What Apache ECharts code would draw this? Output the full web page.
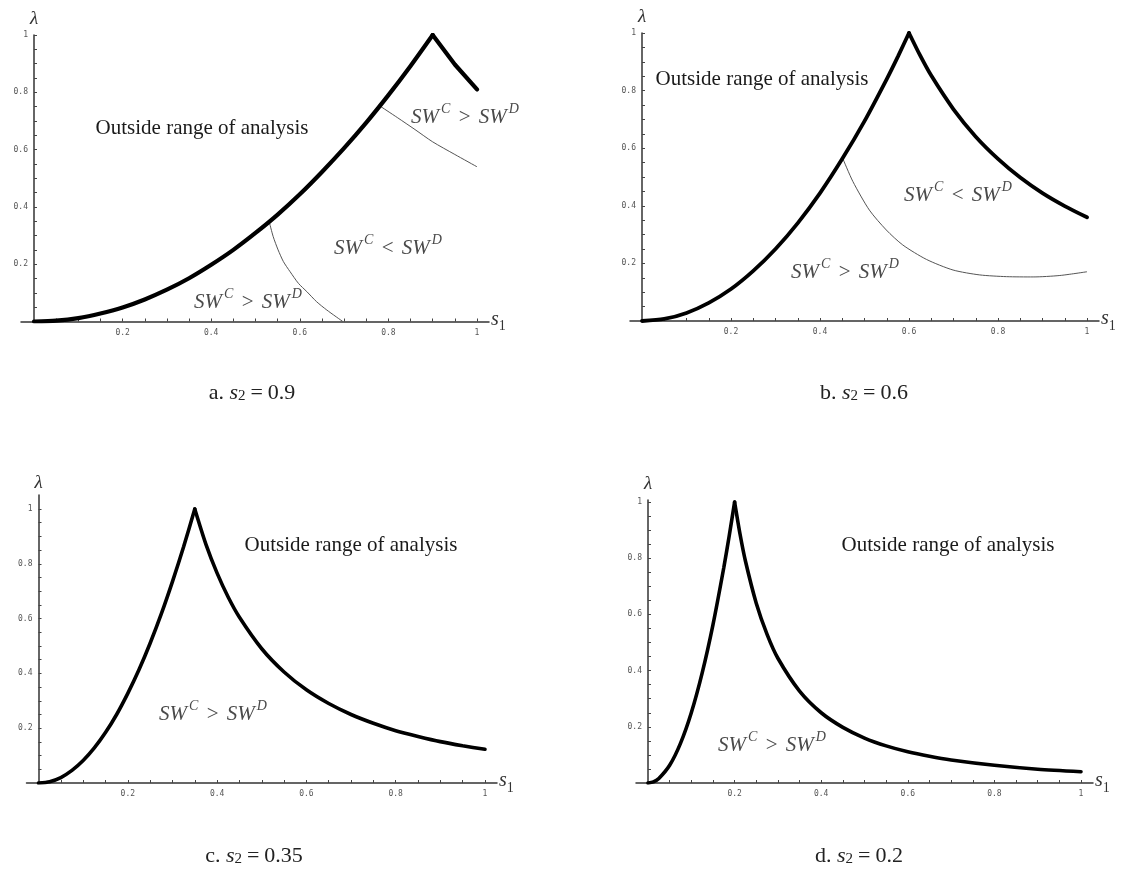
<!DOCTYPE html>
<html>
<head>
<meta charset="utf-8">
<script src="https://cdn.jsdelivr.net/npm/echarts@6.0.0/dist/echarts.min.js"></script>
<style>
  html, body { margin: 0; padding: 0; background: #fff; }
  #main { width: 1125px; height: 870px; }
</style>
</head>
<body>
<div id="main"></div>
<script>
// ---- data ----
// a. s2 = 0.9  (left branch up to the peak, right branch from the peak)
var sA = [0, 0.05, 0.1, 0.15, 0.2, 0.25, 0.3, 0.35, 0.4, 0.45, 0.5, 0.55, 0.6, 0.65, 0.7, 0.75, 0.8, 0.85, 0.9]
var lamA = [0, 0.003, 0.012, 0.028, 0.049, 0.077, 0.111, 0.151, 0.198, 0.25, 0.309, 0.373, 0.444, 0.522, 0.605, 0.694, 0.79, 0.892, 1]
var sAr = [0.9, 0.95, 1]
var lamAr = [1, 0.897, 0.81]
var sA1 = [0.531, 0.54, 0.551, 0.563, 0.578, 0.597, 0.616, 0.638, 0.661, 0.697]
var lamA1 = [0.348, 0.296, 0.25, 0.209, 0.174, 0.133, 0.104, 0.069, 0.04, 0]
var sA2 = [0.781, 0.82, 0.86, 0.9, 0.95, 1]
var lamA2 = [0.752, 0.712, 0.67, 0.627, 0.583, 0.54]
// b. s2 = 0.6
var sB = [0, 0.05, 0.1, 0.15, 0.2, 0.25, 0.3, 0.35, 0.4, 0.45, 0.5, 0.55, 0.575, 0.6]
var lamB = [0, 0.007, 0.028, 0.063, 0.111, 0.174, 0.25, 0.34, 0.444, 0.563, 0.694, 0.84, 0.918, 1]
var sBr = [0.6, 0.625, 0.65, 0.7, 0.75, 0.8, 0.85, 0.9, 0.95, 1]
var lamBr = [1, 0.922, 0.852, 0.735, 0.64, 0.563, 0.498, 0.444, 0.399, 0.36]
var sB1 = [0.451, 0.474, 0.511, 0.549, 0.586, 0.639, 0.699, 0.759, 0.819, 0.879, 0.939, 1]
var lamB1 = [0.565, 0.484, 0.385, 0.316, 0.264, 0.214, 0.177, 0.16, 0.154, 0.153, 0.158, 0.171]
// c. s2 = 0.35
var sC = [0, 0.025, 0.05, 0.075, 0.1, 0.125, 0.15, 0.175, 0.2, 0.225, 0.25, 0.275, 0.3, 0.325, 0.35]
var lamC = [0, 0.005, 0.02, 0.046, 0.082, 0.128, 0.184, 0.25, 0.327, 0.413, 0.51, 0.617, 0.735, 0.862, 1]
var sCr = [0.35, 0.375, 0.4, 0.425, 0.45, 0.5, 0.55, 0.6, 0.65, 0.7, 0.75, 0.8, 0.85, 0.9, 0.95, 1]
var lamCr = [1, 0.871, 0.766, 0.678, 0.605, 0.49, 0.405, 0.34, 0.29, 0.25, 0.218, 0.191, 0.17, 0.151, 0.136, 0.123]
// d. s2 = 0.2
var sD = [0, 0.0125, 0.025, 0.05, 0.075, 0.1, 0.125, 0.15, 0.175, 0.1875, 0.2]
var lamD = [0, 0.004, 0.016, 0.063, 0.141, 0.25, 0.391, 0.563, 0.766, 0.879, 1]
var sDr = [0.2, 0.2125, 0.225, 0.25, 0.275, 0.3, 0.35, 0.4, 0.45, 0.5, 0.55, 0.6, 0.65, 0.7, 0.8, 0.9, 1]
var lamDr = [1, 0.886, 0.79, 0.64, 0.529, 0.444, 0.327, 0.25, 0.198, 0.16, 0.132, 0.111, 0.095, 0.082, 0.063, 0.049, 0.04]

var majorTicks = [0.2, 0.4, 0.6, 0.8, 1]
var minorTicks = [0.05, 0.1, 0.15, 0.2, 0.25, 0.3, 0.35, 0.4, 0.45, 0.5, 0.55, 0.6, 0.65, 0.7, 0.75, 0.8, 0.85, 0.9, 0.95, 1]
var panelLetters = ['a.', 'b.', 'c.', 'd.']
var s2Labels = ['0.9', '0.6', '0.35', '0.2']

function zip(xs, ys) {
  return xs.map(function (x, i) { return [x, ys[i]] })
}

// pixel layout of each panel: where s1=0/1 and lambda=0/1 fall
var panels = [
  {x0: 34, x1: 477, y0: 321.5, y1: 35, extL: 13, extR: 12, extT: 0, cap: [252, 390]},
  {x0: 642, x1: 1087, y0: 321, y1: 33, extL: 12, extR: 12, extT: 0, cap: [864, 390]},
  {x0: 38.5, x1: 485, y0: 783, y1: 509, extL: 12, extR: 12, extT: 14, cap: [254, 853]},
  {x0: 648, x1: 1081, y0: 783, y1: 502, extL: 12, extR: 12, extT: 2, cap: [859, 853]}
]

var serif = '"Liberation Serif", "DejaVu Serif", serif'
var tickFont = '"DejaVu Sans Mono", monospace'

var grids = [], xAxes = [], yAxes = []
panels.forEach(function (p, i) {
  var ux = p.x1 - p.x0, uy = p.y0 - p.y1
  grids.push({
    left: p.x0 - p.extL, top: p.y1 - p.extT,
    width: ux + p.extL + p.extR, height: uy + p.extT,
    outerBoundsMode: 'none', containLabel: false
  })
  xAxes.push({
    type: 'value', gridIndex: i,
    min: -p.extL / ux, max: 1 + p.extR / ux,
    axisLine: {onZero: true, lineStyle: {color: '#333', width: 1.5}},
    axisTick: {show: true, inside: true, length: 3, customValues: minorTicks, lineStyle: {color: '#444', width: 1}},
    axisLabel: {
      customValues: majorTicks, margin: 7, color: '#555', fontSize: 8, fontFamily: tickFont,
      formatter: function (v) { return String(Math.round(v * 10) / 10) }
    },
    splitLine: {show: false},
    name: '{i|s}{sub|1}', nameLocation: 'end', nameGap: 2,
    nameTextStyle: {
      rich: {
        i: {fontFamily: serif, fontStyle: 'italic', fontSize: 20, color: '#333', lineHeight: 24, verticalAlign: 'top'},
        sub: {fontFamily: serif, fontSize: 14, color: '#333', lineHeight: 12, verticalAlign: 'bottom'}
      }
    }
  })
  yAxes.push({
    type: 'value', gridIndex: i,
    min: 0, max: 1 + p.extT / uy,
    axisLine: {onZero: true, lineStyle: {color: '#333', width: 1.5}},
    axisTick: {show: true, inside: true, length: 3, customValues: minorTicks, lineStyle: {color: '#444', width: 1}},
    axisLabel: {
      customValues: majorTicks, margin: 6 - p.extL, color: '#555', fontSize: 8, fontFamily: tickFont,
      formatter: function (v) { return String(Math.round(v * 10) / 10) }
    },
    splitLine: {show: false},
    name: 'λ', nameLocation: 'end', nameGap: 7 - p.extT * 0.3,
    nameTextStyle: {fontFamily: serif, fontStyle: 'italic', fontSize: 19, color: '#333', align: 'center'}
  })
})

function thick(i, xs, ys, w, sm) {
  return {type: 'line', xAxisIndex: i, yAxisIndex: i, data: zip(xs, ys), showSymbol: false, symbol: 'none',
    smooth: sm, lineStyle: {color: '#000', width: w, cap: 'round'}, z: 3, silent: true}
}
function thin(i, xs, ys) {
  return {type: 'line', xAxisIndex: i, yAxisIndex: i, data: zip(xs, ys), showSymbol: false, symbol: 'none',
    smooth: 0.25, lineStyle: {color: '#555', width: 1}, z: 2, silent: true}
}

var series = [
  thick(0, sA, lamA, 4.2, 0.25), thick(0, sAr, lamAr, 4.2, 0), thin(0, sA1, lamA1), thin(0, sA2, lamA2),
  thick(1, sB, lamB, 3.8, 0.25), thick(1, sBr, lamBr, 3.8, 0.25), thin(1, sB1, lamB1),
  thick(2, sC, lamC, 3.6, 0.25), thick(2, sCr, lamCr, 3.6, 0.25),
  thick(3, sD, lamD, 3.6, 0.25), thick(3, sDr, lamDr, 3.6, 0.25)
]

// region labels
var swRich = {
  m: {fontFamily: serif, fontStyle: 'italic', fontSize: 21, fill: '#4a4a4a', lineHeight: 26, verticalAlign: 'bottom'},
  sup: {fontFamily: serif, fontStyle: 'italic', fontSize: 14, fill: '#4a4a4a', lineHeight: 16, verticalAlign: 'top', padding: [0, 0, 0, 2]},
  op: {fontFamily: serif, fontSize: 21, fill: '#4a4a4a', lineHeight: 26, verticalAlign: 'bottom', padding: [0, 3, 0, 3]}
}
function sw(x, y, rel) {
  return {type: 'text', x: x, y: y, z: 10, silent: true,
    style: {text: '{m|SW}{sup|C}{op| ' + rel + ' }{m|SW}{sup|D}', rich: swRich, align: 'center', verticalAlign: 'middle'}}
}
function outside(x, y) {
  return {type: 'text', x: x, y: y, z: 10, silent: true,
    style: {text: 'Outside range of analysis', font: '21px ' + serif, fill: '#1a1a1a', align: 'center', verticalAlign: 'middle'}}
}
var capRich = {
  r: {fontFamily: serif, fontSize: 22, fill: '#222', lineHeight: 28, verticalAlign: 'bottom'},
  i: {fontFamily: serif, fontStyle: 'italic', fontSize: 22, fill: '#222', lineHeight: 28, verticalAlign: 'bottom'},
  sub: {fontFamily: serif, fontSize: 15, fill: '#222', lineHeight: 10, verticalAlign: 'bottom'},
  eq: {fontFamily: serif, fontSize: 22, fill: '#222', lineHeight: 28, verticalAlign: 'bottom', padding: [0, 5, 0, 5]}
}

var graphics = [
  outside(202, 128), sw(465, 115, '>'), sw(388, 246, '<'), sw(248, 300, '>'),
  outside(762, 79), sw(958, 193, '<'), sw(845, 270, '>'),
  outside(351, 545), sw(213, 712, '>'),
  outside(948, 545), sw(772, 743, '>')
]
panels.forEach(function (p, i) {
  graphics.push({type: 'text', x: p.cap[0], y: p.cap[1], silent: true,
    style: {text: '{r|' + panelLetters[i] + ' }{i|s}{sub|2}{eq|=}{r|' + s2Labels[i] + '}', rich: capRich,
      align: 'center', verticalAlign: 'middle'}})
})

var chart = echarts.init(document.getElementById('main'))
chart.setOption({
  backgroundColor: '#fff',
  animation: false,
  grid: grids,
  xAxis: xAxes,
  yAxis: yAxes,
  series: series,
  graphic: graphics
})
</script>
</body>
</html>
